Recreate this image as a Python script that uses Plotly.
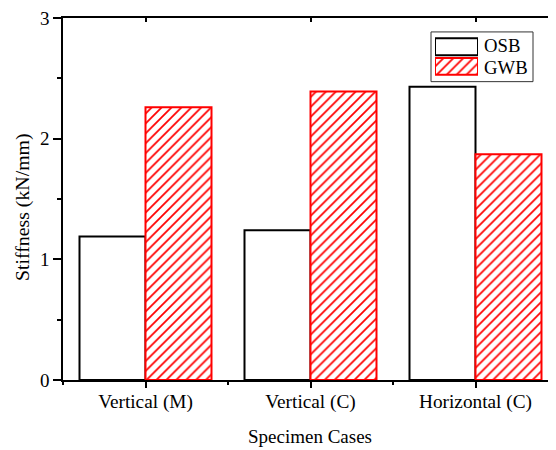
import plotly.graph_objects as go

categories = ["Vertical (M)", "Vertical (C)", "Horizontal (C)"]
osb = [1.19, 1.24, 2.43]
gwb = [2.26, 2.39, 1.87]
yticks = [0, 1, 2, 3]
series_names = ["OSB", "GWB"]

FONT = "Liberation Serif, Times New Roman, serif"
# the page body has an 8px margin; reference pixel coords are shifted by OFF
OFF = 8
W, H = 556 - OFF, 450 - OFF
L, R, T, B = 63 - OFF, 0, 16 - OFF, 70
pw, ph = W - L - R, H - T - B

def px(x):
    return (x - OFF - L) / pw

def py(y):
    return (H - B - (y - OFF)) / ph

xpos = list(range(len(categories)))
hatch = dict(shape="/", fgcolor="#ff0000", bgcolor="white", size=7, solidity=0.25, fillmode="replace")

fig = go.Figure()
fig.add_trace(go.Bar(x=xpos, y=osb, name=series_names[0], marker=dict(color="white", line=dict(color="black", width=2)), showlegend=False))
fig.add_trace(go.Bar(x=xpos, y=gwb, name=series_names[1], marker=dict(color="white", pattern=hatch, line=dict(color="#ff0000", width=2)), showlegend=False))

# custom legend symbols
fig.add_trace(go.Bar(y=[1], x=[1], orientation="h", xaxis="x2", yaxis="y2", width=0.86,
                     marker=dict(color="white", line=dict(color="black", width=2)), showlegend=False, hoverinfo="skip"))
fig.add_trace(go.Bar(y=[0], x=[1], orientation="h", xaxis="x2", yaxis="y2", width=0.86,
                     marker=dict(color="white", pattern=hatch, line=dict(color="#ff0000", width=2)), showlegend=False, hoverinfo="skip"))

xr = [-0.5, 2.5 - 2 / 165]
fig.update_layout(
    width=W, height=H,
    margin=dict(l=L, r=R, t=T, b=B),
    paper_bgcolor="white", plot_bgcolor="white",
    font=dict(family=FONT, size=19, color="black"),
    barmode="group", bargap=0.2, bargroupgap=0,
    xaxis=dict(range=xr, tickmode="array", tickvals=xpos, ticktext=categories,
               showline=True, linecolor="black", linewidth=1.5, mirror=True,
               ticks="outside", ticklen=6, tickwidth=1.5, tickcolor="black",
               minor=dict(tickmode="linear", tick0=-0.5, dtick=1, ticks="outside", ticklen=3, tickwidth=1.5, tickcolor="black"),
               showgrid=False, zeroline=False, tickfont=dict(size=19.3), ticklabelstandoff=-3),
    yaxis=dict(range=[0, 3], tickmode="array", tickvals=yticks, ticktext=[str(v) for v in yticks],
               showline=True, linecolor="black", linewidth=1.5,
               ticks="outside", ticklen=8, tickwidth=1.5, tickcolor="black",
               minor=dict(tickmode="linear", tick0=0, dtick=0.5, ticks="outside", ticklen=4, tickwidth=1.5, tickcolor="black"),
               showgrid=False, zeroline=False, tickfont=dict(size=19), ticklabeloverflow="allow"),
    xaxis3=dict(range=xr, overlaying="x", anchor="y", side="top", tickmode="array", tickvals=xpos,
                ticks="inside", ticklen=4, tickwidth=1.5, tickcolor="black", showticklabels=False,
                showline=False, showgrid=False, zeroline=False),
    xaxis2=dict(domain=[px(435), px(478)], range=[0, 1], anchor="y2", visible=False, fixedrange=True),
    yaxis2=dict(domain=[py(74.5), py(35)], range=[-0.5, 1.5], anchor="x2", visible=False, fixedrange=True),
    showlegend=False,
    shapes=[dict(type="rect", xref="paper", yref="paper", x0=px(431), x1=px(533), y0=py(80), y1=py(30),
                 line=dict(color="#333333", width=1), fillcolor="rgba(0,0,0,0)", layer="below")],
    annotations=[
        dict(text=series_names[0], xref="paper", yref="paper", x=px(482), y=py(44), xanchor="left", yanchor="middle", showarrow=False, font=dict(size=18.7)),
        dict(text=series_names[1], xref="paper", yref="paper", x=px(482), y=py(66), xanchor="left", yanchor="middle", showarrow=False, font=dict(size=18.7)),
        dict(text="Stiffness (kN/mm)", xref="paper", yref="paper", x=px(23), y=py(207), textangle=-90, xanchor="center", yanchor="middle", showarrow=False, font=dict(size=19.8)),
        dict(text="Specimen Cases", xref="paper", yref="paper", x=px(310), y=py(437), xanchor="center", yanchor="middle", showarrow=False, font=dict(size=19)),
    ],
)
fig.add_trace(go.Scatter(x=[None], y=[None], xaxis="x3", yaxis="y", showlegend=False, hoverinfo="skip"))

fig.write_html("out.html")
